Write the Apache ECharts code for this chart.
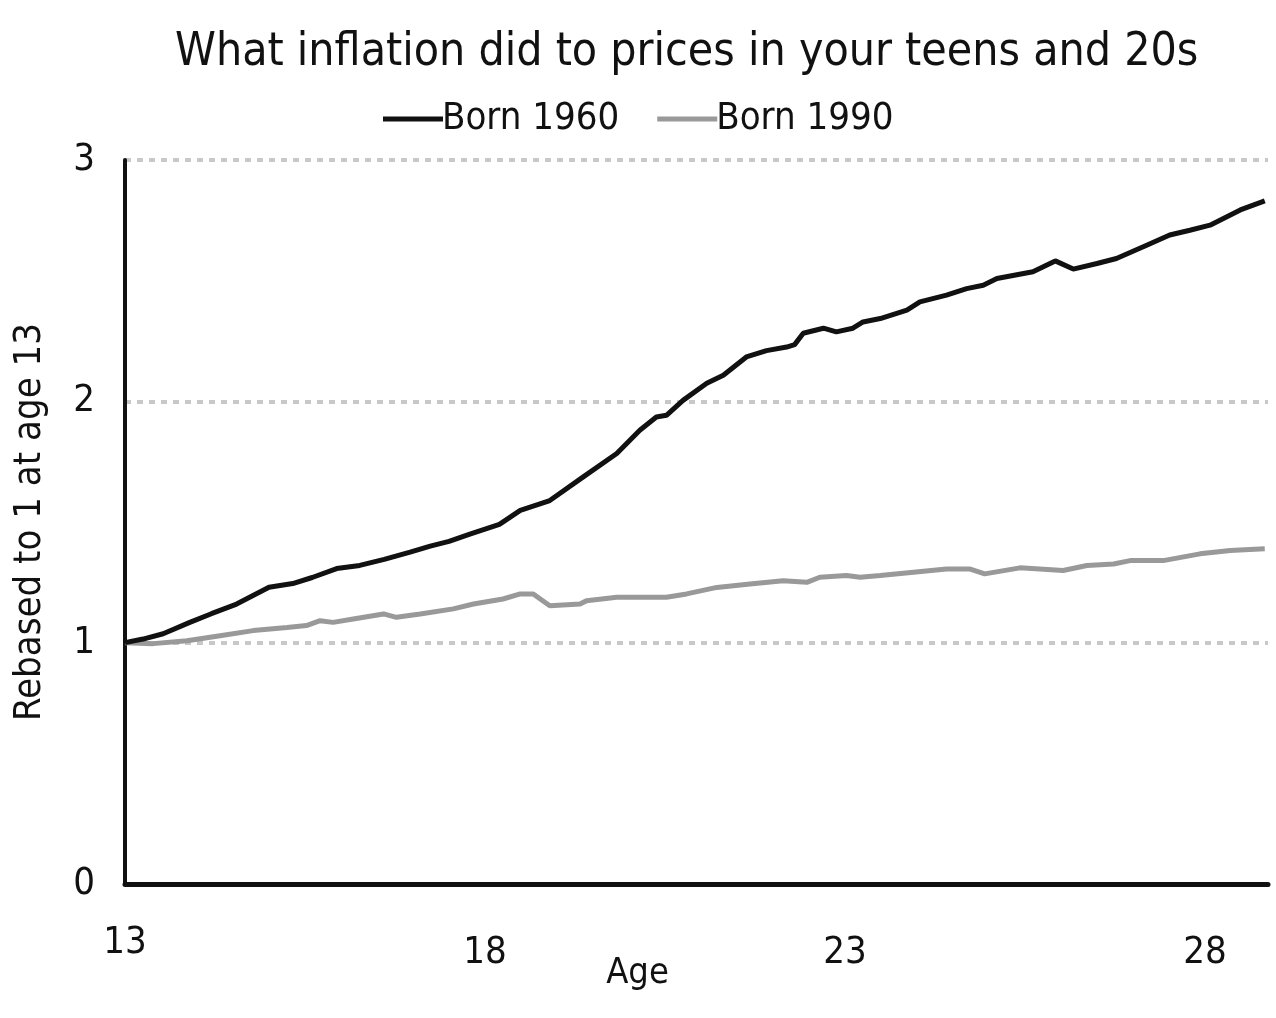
<!DOCTYPE html>
<html>
<head>
<meta charset="utf-8">
<script src="https://cdn.jsdelivr.net/npm/echarts@6/dist/echarts.min.js"></script>
<style>
html,body{margin:0;padding:0;background:#fff;}
#c{width:1276px;height:1018px;}
</style>
</head>
<body>
<div id="c"></div>
<script>
const titleText = 'What inflation did to prices in your teens and 20s';
const seriesNames = ['Born 1960', 'Born 1990'];
const xTicks = [13, 18, 23, 28];
const yTicks = [0, 1, 2, 3];

const ages1960 = [13.0, 13.25, 13.53, 13.9, 14.2, 14.55, 15.0, 15.33, 15.6, 15.94, 16.26, 16.6, 16.96, 17.24, 17.5, 17.79, 18.2, 18.49, 18.9, 19.36, 19.83, 20.15, 20.38, 20.52, 20.75, 21.08, 21.31, 21.63, 21.91, 22.19, 22.3, 22.42, 22.7, 22.88, 23.11, 23.25, 23.49, 23.86, 24.04, 24.41, 24.69, 24.92, 25.11, 25.61, 25.92, 26.17, 26.5, 26.77, 27.19, 27.51, 27.79, 28.07, 28.49, 28.83];
const values1960 = [1.0, 1.015, 1.037, 1.084, 1.12, 1.16, 1.23, 1.245, 1.27, 1.307, 1.32, 1.345, 1.375, 1.40, 1.42, 1.45, 1.49, 1.548, 1.589, 1.686, 1.784, 1.88, 1.935, 1.942, 2.004, 2.075, 2.108, 2.184, 2.21, 2.225, 2.235, 2.282, 2.303, 2.288, 2.303, 2.329, 2.343, 2.378, 2.412, 2.44, 2.467, 2.481, 2.509, 2.537, 2.582, 2.548, 2.571, 2.592, 2.647, 2.689, 2.709, 2.73, 2.793, 2.831];

const ages1990 = [13.0, 13.39, 13.86, 14.32, 14.78, 15.25, 15.52, 15.71, 15.89, 16.17, 16.59, 16.77, 17.1, 17.56, 17.84, 18.25, 18.49, 18.67, 18.9, 19.32, 19.41, 19.83, 20.52, 20.8, 21.22, 21.68, 22.14, 22.47, 22.65, 23.02, 23.21, 23.49, 23.95, 24.41, 24.74, 24.94, 25.43, 26.03, 26.36, 26.73, 26.96, 27.42, 27.93, 28.35, 28.83];
const values1990 = [1.0, 0.996, 1.008, 1.029, 1.05, 1.063, 1.071, 1.091, 1.084, 1.098, 1.119, 1.105, 1.119, 1.14, 1.16, 1.181, 1.202, 1.202, 1.153, 1.16, 1.174, 1.188, 1.188, 1.202, 1.229, 1.243, 1.257, 1.25, 1.271, 1.278, 1.271, 1.278, 1.292, 1.305, 1.305, 1.285, 1.31, 1.299, 1.32, 1.326, 1.34, 1.34, 1.368, 1.382, 1.389];

const FONT = '"Liberation Sans Narrow", "DejaVu Sans Condensed", "Liberation Sans", sans-serif';

const chart = echarts.init(document.getElementById('c'));
chart.setOption({
  backgroundColor: '#fff',
  animation: false,
  title: {
    text: titleText,
    left: 170,
    top: 25,
    textStyle: {fontFamily: FONT, fontSize: 46, fontWeight: 'normal', color: '#111'}
  },
  legend: {
    data: seriesNames,
    top: 95,
    left: 378,
    itemWidth: 60,
    itemHeight: 5,
    itemGap: 38,
    icon: 'rect',
    textStyle: {fontFamily: FONT, fontSize: 38, color: '#111', padding: [0,0,0,-6]}
  },
  grid: {left: 125, right: 8, top: 160, bottom: 134, containLabel: false},
  xAxis: {
    type: 'value',
    min: 13,
    max: 28.875,
    name: 'Age',
    nameLocation: 'middle',
    nameGap: 72,
    nameMoveOverlap: false,
    nameTextStyle: {fontFamily: FONT, fontSize: 36, color: '#111', padding: [0, 118, 0, 0]},
    axisLine: {show: true, lineStyle: {color: '#111', width: 5}},
    axisTick: {show: false},
    splitLine: {show: false},
    axisLabel: {
      customValues: xTicks,
      margin: 40,
      fontFamily: FONT, fontSize: 38, color: '#111',
      formatter: v => v === 13 ? '{a|' + v + '}' : '{b|' + v + '}',
      rich: {
        a: {fontFamily: FONT, fontSize: 38, color: '#111'},
        b: {fontFamily: FONT, fontSize: 38, color: '#111', padding: [10, 0, 0, 0]}
      }
    }
  },
  yAxis: {
    type: 'value',
    min: 0,
    max: 3,
    interval: 1,
    name: 'Rebased to 1 at age 13',
    nameLocation: 'middle',
    nameGap: 76,
    nameMoveOverlap: false,
    nameTextStyle: {fontFamily: FONT, fontSize: 38, color: '#111'},
    axisLine: {show: true, lineStyle: {color: '#111', width: 4}},
    axisTick: {show: false},
    axisLabel: {
      margin: 30,
      fontFamily: FONT, fontSize: 38, color: '#111',
      formatter: v => yTicks.includes(v) ? String(v) : ''
    },
    splitLine: {show: true, lineStyle: {color: '#c8c8c8', width: 4, type: [6, 6]}}
  },
  series: [
    {
      name: seriesNames[0], type: 'line', showSymbol: false,
      data: ages1960.map((a, i) => [a, values1960[i]]),
      lineStyle: {color: '#111', width: 5},
      itemStyle: {color: '#111'},
      z: 3
    },
    {
      name: seriesNames[1], type: 'line', showSymbol: false,
      data: ages1990.map((a, i) => [a, values1990[i]]),
      lineStyle: {color: '#999', width: 5},
      itemStyle: {color: '#999'},
      z: 2
    }
  ]
});
</script>
</body>
</html>
